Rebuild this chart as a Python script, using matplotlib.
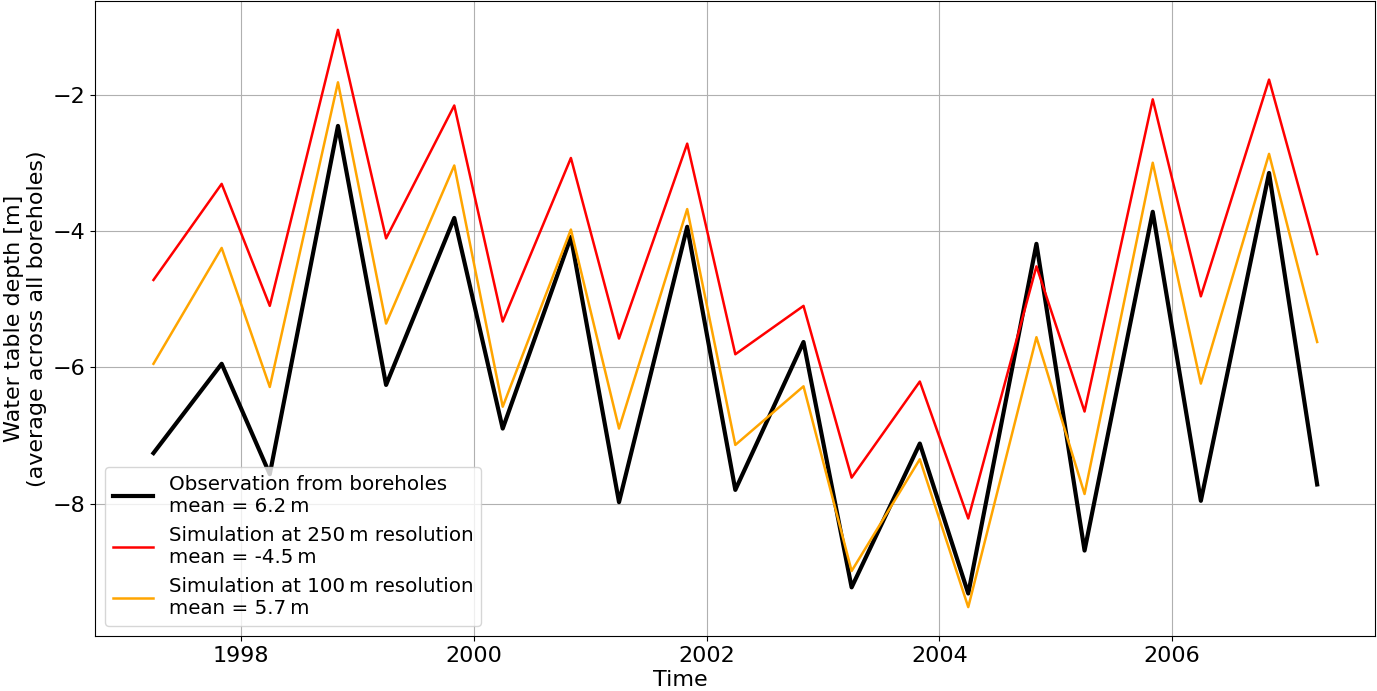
import numpy as np
import pandas as pd
import matplotlib
matplotlib.use("Agg")
import matplotlib.pyplot as plt

# sampling dates: early April and early November each year
dates = pd.to_datetime([
    "1997-04-01", "1997-11-01", "1998-04-01", "1998-11-01", "1999-04-01",
    "1999-11-01", "2000-04-01", "2000-11-01", "2001-04-01", "2001-11-01",
    "2002-04-01", "2002-11-01", "2003-04-01", "2003-11-01", "2004-04-01",
    "2004-11-01", "2005-04-01", "2005-11-01", "2006-04-01", "2006-11-01",
    "2007-04-01",
])

obs = [-7.26, -5.95, -7.57, -2.46, -6.26, -3.81, -6.90, -4.09, -7.98, -3.94,
       -7.80, -5.63, -9.23, -7.12, -9.32, -4.19, -8.69, -3.72, -7.96, -3.15,
       -7.72]
sim_250 = [-4.72, -3.31, -5.10, -1.05, -4.11, -2.16, -5.33, -2.93, -5.58, -2.72,
           -5.81, -5.10, -7.62, -6.21, -8.22, -4.52, -6.65, -2.07, -4.96, -1.78,
           -4.34]
sim_100 = [-5.95, -4.25, -6.29, -1.82, -5.36, -3.04, -6.58, -3.98, -6.90, -3.68,
           -7.14, -6.28, -8.99, -7.35, -9.52, -5.56, -7.86, -3.00, -6.24, -2.87,
           -5.63]

labels = [
    "Observation from boreholes\nmean = 6.2\u2009m",
    "Simulation at 250\u2009m resolution\nmean = -4.5\u2009m",
    "Simulation at 100\u2009m resolution\nmean = 5.7\u2009m",
]

plt.rcParams["font.size"] = 16

fig, ax = plt.subplots(figsize=(13.77, 6.91), dpi=100)
fig.subplots_adjust(left=0.0692, right=0.9988, top=0.9986, bottom=0.0796)

ax.plot(dates, obs, color="black", linewidth=3, label=labels[0])
ax.plot(dates, sim_250, color="red", linewidth=1.8, label=labels[1])
ax.plot(dates, sim_100, color="orange", linewidth=1.8, label=labels[2])

ax.set_xlabel("Time")
ax.set_ylabel("Water table depth [m]\n(average across all boreholes)")
ax.xaxis.set_label_coords(0.457, -0.054)
ax.grid(True)
ax.legend(loc="lower left", fontsize=14.3, handlelength=2.0)

fig.savefig("out.png", dpi=100)
